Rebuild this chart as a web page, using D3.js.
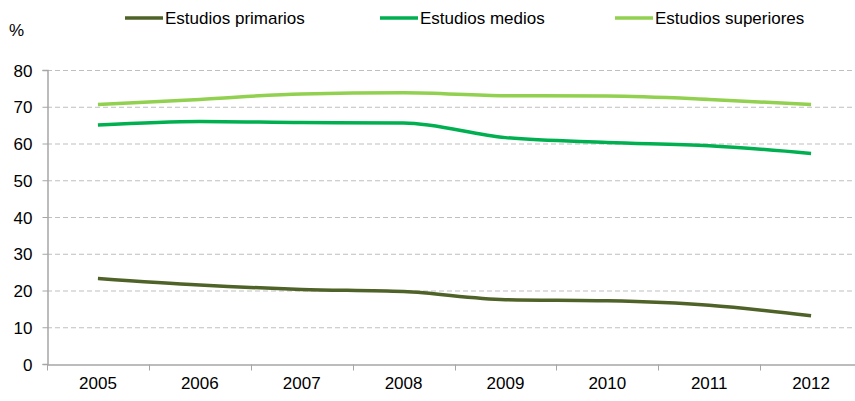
<!DOCTYPE html>
<html>
<head>
<meta charset="utf-8">
<script src="https://cdn.jsdelivr.net/npm/d3@7"></script>
<style>
  body { margin: 0; background: #fff; }
  text { font-family: "Liberation Sans", Arial, sans-serif; fill: #000; }
</style>
</head>
<body>
<script>
// chart data
var years = ["2005", "2006", "2007", "2008", "2009", "2010", "2011", "2012"];
var primarios = [23.3, 21.5, 20.3, 19.7, 17.5, 17.2, 16.0, 13.1];
var medios = [65.0, 66.0, 65.7, 65.6, 61.6, 60.3, 59.4, 57.3];
var superiores = [70.6, 72.0, 73.5, 73.8, 73.0, 72.9, 72.0, 70.6];
var yTicks = [0, 10, 20, 30, 40, 50, 60, 70, 80];

var series = [
    { name: "Estudios primarios", values: primarios, color: "#4f6228" },
    { name: "Estudios medios", values: medios, color: "#00b050" },
    { name: "Estudios superiores", values: superiores, color: "#92d050" }
];

var width = 855, height = 401;
var plotLeft = 47, plotRight = 862, plotTop = 70, plotBottom = 364;

var svg = d3.select("body").append("svg")
    .attr("width", width)
    .attr("height", height);

var x = d3.scaleBand().domain(years).range([plotLeft, plotRight]);
var y = d3.scaleLinear().domain([0, 80]).range([plotBottom, plotTop]);

// gridlines
svg.append("g")
    .selectAll("line")
    .data(yTicks.filter(function(d) { return d > 0; }))
    .enter().append("line")
    .attr("x1", plotLeft).attr("x2", width)
    .attr("y1", function(d) { return y(d) + 0.5; })
    .attr("y2", function(d) { return y(d) + 0.5; })
    .attr("stroke", "#bfbfbf")
    .attr("stroke-width", 1)
    .attr("stroke-dasharray", "5,3");

// y axis
var yAxis = svg.append("g")
    .attr("transform", "translate(" + (plotLeft + 0.5) + ",0)")
    .call(d3.axisLeft(y).tickValues(yTicks).tickSize(5).tickPadding(10));
yAxis.selectAll("text").style("font-size", "17px").attr("dy", "0.36em");

// x axis
var xAxis = svg.append("g")
    .attr("transform", "translate(0," + (plotBottom + 0.5) + ")")
    .call(d3.axisBottom(x).tickSize(0).tickPadding(12));
xAxis.selectAll("text").style("font-size", "17px");
xAxis.selectAll(".tick line").remove();
xAxis.append("g")
    .selectAll("line")
    .data(years)
    .enter().append("line")
    .attr("x1", function(d) { return Math.round(x(d)) + 0.5; })
    .attr("x2", function(d) { return Math.round(x(d)) + 0.5; })
    .attr("y1", 0).attr("y2", 6)
    .attr("stroke", "#a6a6a6");

svg.selectAll(".domain").attr("stroke", "#a6a6a6").attr("stroke-width", 1.5);
svg.selectAll(".tick line").attr("stroke", "#a6a6a6");

// lines
var line = d3.line()
    .x(function(d, i) { return x(years[i]) + x.bandwidth() / 2; })
    .y(function(d) { return y(d); })
    .curve(d3.curveMonotoneX);

svg.append("g")
    .selectAll("path")
    .data(series)
    .enter().append("path")
    .attr("d", function(s) { return line(s.values); })
    .attr("fill", "none")
    .attr("stroke", function(s) { return s.color; })
    .attr("stroke-width", 3.5);

// unit label
svg.append("text")
    .attr("x", 9).attr("y", 36)
    .style("font-size", "17px")
    .text("%");

// legend
var legendX = [125, 380, 615];
var legend = svg.append("g")
    .selectAll("g")
    .data(series)
    .enter().append("g")
    .attr("transform", function(s, i) { return "translate(" + legendX[i] + ",18)"; });

legend.append("line")
    .attr("x1", 0).attr("x2", 38)
    .attr("stroke", function(s) { return s.color; })
    .attr("stroke-width", 3.5);

legend.append("text")
    .attr("x", 40).attr("dy", "0.35em")
    .style("font-size", "17px")
    .text(function(s) { return s.name; });
</script>
</body>
</html>
